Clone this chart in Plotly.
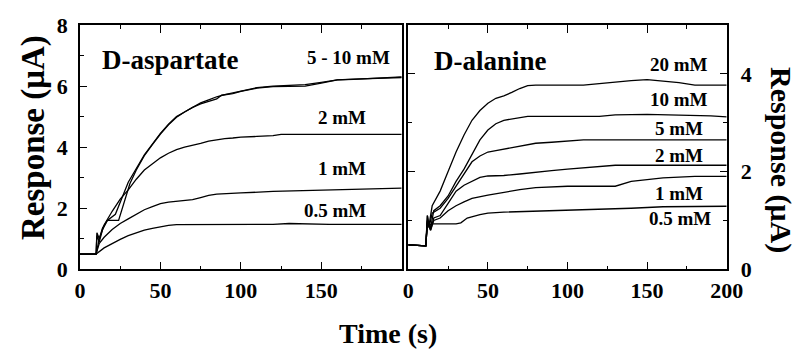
import plotly.graph_objects as go

# ---------------- data: D-aspartate (left panel) ----------------
asp_10_t = [0, 10, 10.5, 12, 14, 17, 22, 27, 30, 35, 40, 45, 50, 55, 60, 65, 70, 75, 80, 85, 90, 95, 100, 110, 120, 130, 140, 150, 160, 170, 180, 190, 200]
asp_10_v = [0.5, 0.5, 1.2, 1.0, 1.35, 1.6, 1.8, 2.5, 2.85, 3.3, 3.75, 4.1, 4.45, 4.75, 5.0, 5.15, 5.3, 5.45, 5.55, 5.65, 5.72, 5.78, 5.85, 5.95, 6.0, 6.03, 6.05, 6.12, 6.2, 6.22, 6.25, 6.28, 6.3]
asp_5_t = [0, 10, 10.5, 12, 14, 17, 24, 28, 31, 35, 40, 45, 50, 55, 60, 65, 70, 75, 80, 85, 88, 95, 100, 110, 120, 130, 140, 150, 160, 170, 180, 190, 200]
asp_5_v = [0.5, 0.5, 1.1, 0.9, 1.3, 1.6, 1.6, 2.3, 2.8, 3.25, 3.72, 4.08, 4.43, 4.73, 4.98, 5.15, 5.3, 5.42, 5.5, 5.58, 5.7, 5.75, 5.83, 5.93, 5.98, 6.0, 6.0, 6.1, 6.2, 6.23, 6.25, 6.27, 6.28]
asp_2_t = [0, 10, 12, 15, 20, 25, 30, 35, 40, 45, 50, 55, 60, 65, 70, 75, 80, 85, 90, 95, 100, 110, 120, 125, 200]
asp_2_v = [0.5, 0.5, 1.0, 1.45, 1.9, 2.3, 2.6, 2.95, 3.25, 3.45, 3.65, 3.8, 3.92, 4.0, 4.05, 4.12, 4.2, 4.25, 4.28, 4.3, 4.33, 4.35, 4.38, 4.42, 4.42]
asp_1_t = [0, 10, 12, 15, 20, 25, 30, 35, 40, 45, 50, 55, 60, 65, 70, 75, 80, 85, 90, 100, 120, 140, 160, 180, 200]
asp_1_v = [0.5, 0.5, 0.85, 1.05, 1.3, 1.5, 1.65, 1.8, 1.95, 2.05, 2.15, 2.2, 2.22, 2.25, 2.28, 2.35, 2.42, 2.46, 2.48, 2.5, 2.55, 2.58, 2.6, 2.63, 2.66]
asp_05_t = [0, 10, 15, 20, 25, 30, 35, 40, 45, 50, 55, 60, 120, 130, 145, 155, 200]
asp_05_v = [0.5, 0.5, 0.7, 0.85, 0.98, 1.1, 1.2, 1.28, 1.34, 1.4, 1.44, 1.46, 1.47, 1.5, 1.49, 1.47, 1.47]

# ---------------- data: D-alanine (right panel) ----------------
ala_20_t = [0, 11, 12, 13, 15, 20, 25, 30, 35, 40, 45, 50, 55, 60, 65, 70, 75, 80, 110, 120, 130, 140, 150, 160, 170, 180, 200]
ala_20_v = [0.5, 0.48, 1.1, 0.9, 1.3, 1.6, 2.0, 2.4, 2.75, 3.05, 3.25, 3.4, 3.5, 3.55, 3.62, 3.7, 3.76, 3.77, 3.77, 3.8, 3.84, 3.86, 3.88, 3.85, 3.82, 3.77, 3.77]
ala_10_t = [0, 11, 12, 14, 16, 20, 25, 30, 35, 40, 45, 50, 55, 60, 65, 70, 75, 120, 130, 150, 170, 190, 200]
ala_10_v = [0.5, 0.48, 1.0, 0.85, 1.2, 1.3, 1.5, 1.8, 2.05, 2.35, 2.65, 2.85, 2.98, 3.05, 3.08, 3.1, 3.13, 3.13, 3.16, 3.17, 3.16, 3.14, 3.12]
ala_5_t = [0, 11, 12, 13, 15, 18, 20, 25, 30, 35, 40, 45, 50, 55, 60, 70, 80, 90, 100, 110, 200]
ala_5_v = [0.5, 0.48, 1.1, 0.85, 1.15, 1.2, 1.25, 1.45, 1.7, 1.95, 2.2, 2.32, 2.4, 2.43, 2.46, 2.52, 2.58, 2.6, 2.63, 2.65, 2.65]
ala_2_t = [0, 11, 12, 14, 16, 20, 25, 30, 35, 40, 45, 50, 60, 70, 80, 90, 100, 110, 120, 130, 200]
ala_2_v = [0.5, 0.48, 1.0, 0.8, 1.05, 1.1, 1.35, 1.6, 1.72, 1.8, 1.88, 1.91, 1.92, 1.95, 1.99, 2.02, 2.05, 2.08, 2.1, 2.13, 2.13]
ala_1_t = [0, 11, 12, 14, 16, 20, 25, 30, 35, 40, 50, 60, 70, 80, 90, 100, 130, 135, 140, 160, 180, 200]
ala_1_v = [0.5, 0.48, 0.95, 0.8, 1.0, 1.05, 1.2, 1.3, 1.38, 1.45, 1.52, 1.58, 1.63, 1.67, 1.69, 1.7, 1.7, 1.75, 1.8, 1.87, 1.9, 1.9]
ala_05_t = [0, 11, 12, 13, 15, 20, 30, 33, 37, 45, 50, 60, 80, 100, 120, 140, 160, 180, 200]
ala_05_v = [0.5, 0.48, 0.95, 0.9, 0.93, 0.93, 0.93, 0.95, 1.05, 1.12, 1.15, 1.17, 1.19, 1.21, 1.22, 1.25, 1.28, 1.29, 1.29]

# label texts and anchor values
asp_labels = ["5 - 10 mM", "2 mM", "1 mM", "0.5 mM"]
asp_label_y = [6.93, 4.96, 3.29, 1.94]
ala_labels = ["20 mM", "10 mM", "5 mM", "2 mM", "1 mM", "0.5 mM"]
ala_label_y = [4.19, 3.47, 2.89, 2.33, 1.55, 1.03]

FONT = "Liberation Serif, Tinos, Times New Roman, serif"
fig = go.Figure()
line = dict(color="black", width=1.3)
for t, v in [(asp_10_t, asp_10_v), (asp_5_t, asp_5_v), (asp_2_t, asp_2_v), (asp_1_t, asp_1_v), (asp_05_t, asp_05_v)]:
    fig.add_trace(go.Scatter(x=t, y=v, mode="lines", line=line, xaxis="x", yaxis="y", showlegend=False))
for t, v in [(ala_20_t, ala_20_v), (ala_10_t, ala_10_v), (ala_5_t, ala_5_v), (ala_2_t, ala_2_v), (ala_1_t, ala_1_v), (ala_05_t, ala_05_v)]:
    fig.add_trace(go.Scatter(x=t, y=v, mode="lines", line=line, xaxis="x2", yaxis="y2", showlegend=False))

tickfont = dict(family=FONT, size=22, color="black", weight="bold")
common_x = dict(range=[0, 200], showline=True, linecolor="black", linewidth=1.5, mirror="ticks",
                ticks="inside", ticklen=8, tickcolor="black", tickwidth=1, showgrid=False, zeroline=False,
                tickfont=tickfont, ticklabelstandoff=1, automargin=False,
                minor=dict(tickvals=[25, 75, 125, 175], ticks="inside", ticklen=4, tickcolor="black"))
ydom = [1 - 269.3 / 349, 1 - 25 / 349]

fig.update_layout(
    template="none",
    width=799, height=349, margin=dict(l=0, r=0, t=0, b=0, autoexpand=False),
    paper_bgcolor="white", plot_bgcolor="white",
    xaxis=dict(domain=[80 / 799, 401.7 / 799], tickvals=[0, 50, 100, 150], anchor="y", **common_x),
    xaxis2=dict(domain=[408.3 / 799, 726.7 / 799], tickvals=[0, 50, 100, 150, 200], anchor="y2", **common_x),
    yaxis=dict(domain=ydom, range=[0, 8], tickvals=[0, 2, 4, 6, 8], showline=True, linecolor="black",
               linewidth=1.5, mirror=True, ticks="inside", ticklen=7, tickcolor="black", showgrid=False,
               zeroline=False, tickfont=tickfont, ticklabelstandoff=6, anchor="x", automargin=False,
               minor=dict(tickvals=[1, 3, 5, 7], ticks="inside", ticklen=4, tickcolor="black")),
    yaxis2=dict(domain=ydom, range=[0, 5], tickvals=[0, 2, 4], side="right", showline=True, linecolor="black",
                linewidth=1.5, mirror="ticks", ticks="inside", ticklen=7, tickcolor="black", showgrid=False,
                zeroline=False, tickfont=tickfont, ticklabelstandoff=8, anchor="x2", automargin=False,
                minor=dict(tickvals=[1, 3, 5], ticks="inside", ticklen=4, tickcolor="black")),
)

ann = []
ann.append(dict(text="D-aspartate", x=12.5, y=6.86, xref="x", yref="y", xanchor="left", yanchor="middle",
                showarrow=False, font=dict(family=FONT, size=27, color="black", weight="bold")))
ann.append(dict(text="D-alanine", x=14.7, y=4.26, xref="x2", yref="y2", xanchor="left", yanchor="middle",
                showarrow=False, font=dict(family=FONT, size=27, color="black", weight="bold")))
lab_font = dict(family=FONT, size=19, color="black", weight="bold")
asp_label_x = [194, 179, 179, 179]
for txt, yv, xv in zip(asp_labels, asp_label_y, asp_label_x):
    ann.append(dict(text=txt, x=xv, y=yv, xref="x", yref="y", xanchor="right", yanchor="middle",
                    showarrow=False, font=lab_font))
ala_label_x = [189.5, 189.5, 186.4, 186.4, 186.4, 191.6]
for txt, yv, xv in zip(ala_labels, ala_label_y, ala_label_x):
    ann.append(dict(text=txt, x=xv, y=yv, xref="x2", yref="y2", xanchor="right", yanchor="middle",
                    showarrow=False, font=lab_font))
ann.append(dict(text="Response (μA)", x=33 / 799, y=1 - 138 / 349, xref="paper", yref="paper",
                xanchor="center", yanchor="middle", textangle=-90, showarrow=False,
                font=dict(family=FONT, size=33, color="black", weight="bold")))
ann.append(dict(text="Response (μA)", x=781 / 799, y=1 - 160 / 349, xref="paper", yref="paper",
                xanchor="center", yanchor="middle", textangle=90, showarrow=False,
                font=dict(family=FONT, size=30, color="black", weight="bold")))
ann.append(dict(text="Time (s)", x=388 / 799, y=1 - 333 / 349, xref="paper", yref="paper",
                xanchor="center", yanchor="middle", showarrow=False,
                font=dict(family=FONT, size=28, color="black", weight="bold")))
fig.update_layout(annotations=ann)

fig.write_html("out.html", config={"displayModeBar": False},
               post_script="document.body.style.margin='0';")
